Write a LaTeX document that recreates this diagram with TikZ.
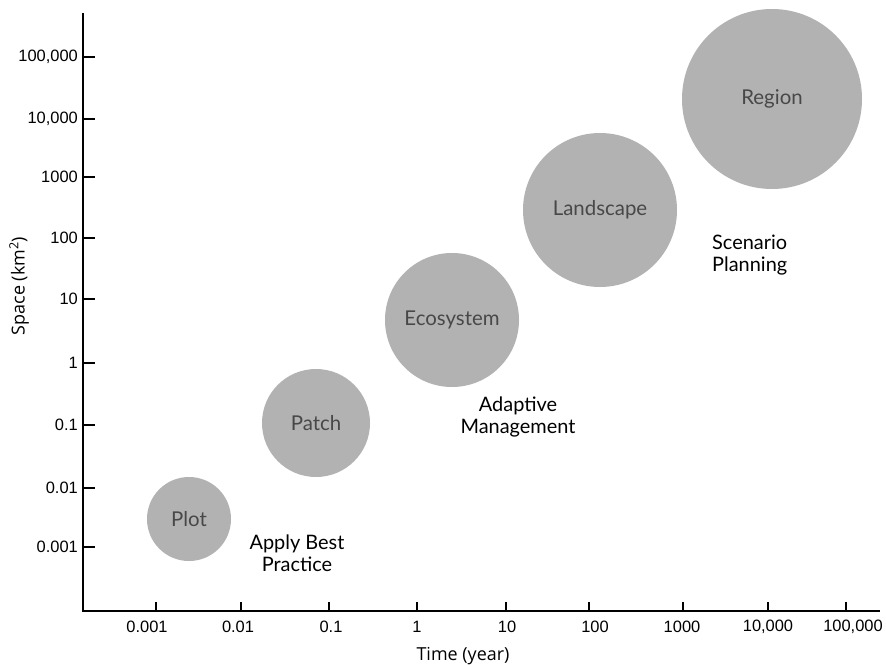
\documentclass[tikz,border=0pt]{standalone}
\usepackage{fontspec}
\setmainfont{Liberation Sans}
\newfontfamily\bubblefont{Lato}
\newfontfamily\titlefont{Open Sans}
\definecolor{bubblegray}{RGB}{178,178,178}
\definecolor{bubbletext}{RGB}{72,72,72}
\begin{document}
\begin{tikzpicture}[x=1bp,y=-1bp,
  bubble/.style={circle, fill=bubblegray, draw=none, inner sep=0pt,
    font=\bubblefont\fontsize{20.5}{24}\selectfont, text=bubbletext},
  note/.style={align=center, inner sep=0pt, font=\bubblefont\fontsize{20}{22}\selectfont, text=black},
  ticklab/.style={inner sep=0pt, font=\fontsize{16.5}{19}\selectfont},
  axisline/.style={line width=2.8bp, line join=miter},
  tickline/.style={line width=2bp},
  axistitle/.style={inner sep=0pt, font=\titlefont\fontsize{18}{21}\selectfont}]
\useasboundingbox[fill=white] (0,0) rectangle (886,665);

% axes
\coordinate (ytop) at (83,13);
\coordinate (orig) at (83,611);
\coordinate (xend) at (880,611);
\draw[axisline] (ytop) -- (orig) -- (xend);

% y ticks
\foreach \y/\lab [count=\i] in {57/{100,000},119/{10,000},177/1000,238/100,299/10,363/1,425/0.1,488/0.01,547/0.001}{
  \coordinate (yt\i) at (83,\y);
  \coordinate (ye\i) at (95,\y);
  \draw[tickline] (yt\i) -- (ye\i);
  \node[ticklab, anchor=east] (yl\i) at (78,\y) {\lab};
}
% x ticks
\foreach \x/\lx/\lab [count=\i] in {156/147/0.001,241/238/0.01,329/331/0.1,417/417/1,506/507/10,589/595/100,683/682/1000,768/768/{10,000},846/853/{100,000}}{
  \coordinate (xt\i) at (\x,611);
  \coordinate (xe\i) at (\x,602);
  \draw[tickline] (xt\i) -- (xe\i);
  \node[ticklab] (xl\i) at (\lx,627) {\lab};
}

% axis titles
\node[axistitle, rotate=90] (ylab) at (19,286) {Space (km\textsuperscript{2})};
\node[axistitle] (xlab) at (463,656) {Time (year)};

% bubbles
\node[bubble, minimum size=84bp]  (plot)   at (189,519) {Plot};
\node[bubble, minimum size=108bp] (patch)  at (316,423) {Patch};
\node[bubble, minimum size=134bp] (eco)    at (452,320) {Ecosystem};
\node[bubble, minimum size=154bp] (land)   at (600,210) {Landscape};
\node[bubble, minimum size=180bp] (region) at (772,99)  {Region};

% notes
\node[note] (best)  at (297,553) {Apply Best\\Practice};
\node[note] (adapt) at (518,417) {Adaptive\\Management};
\node[note, anchor=west, align=left] (scen) at (712,255) {Scenario\\Planning};
\end{tikzpicture}
\end{document}
